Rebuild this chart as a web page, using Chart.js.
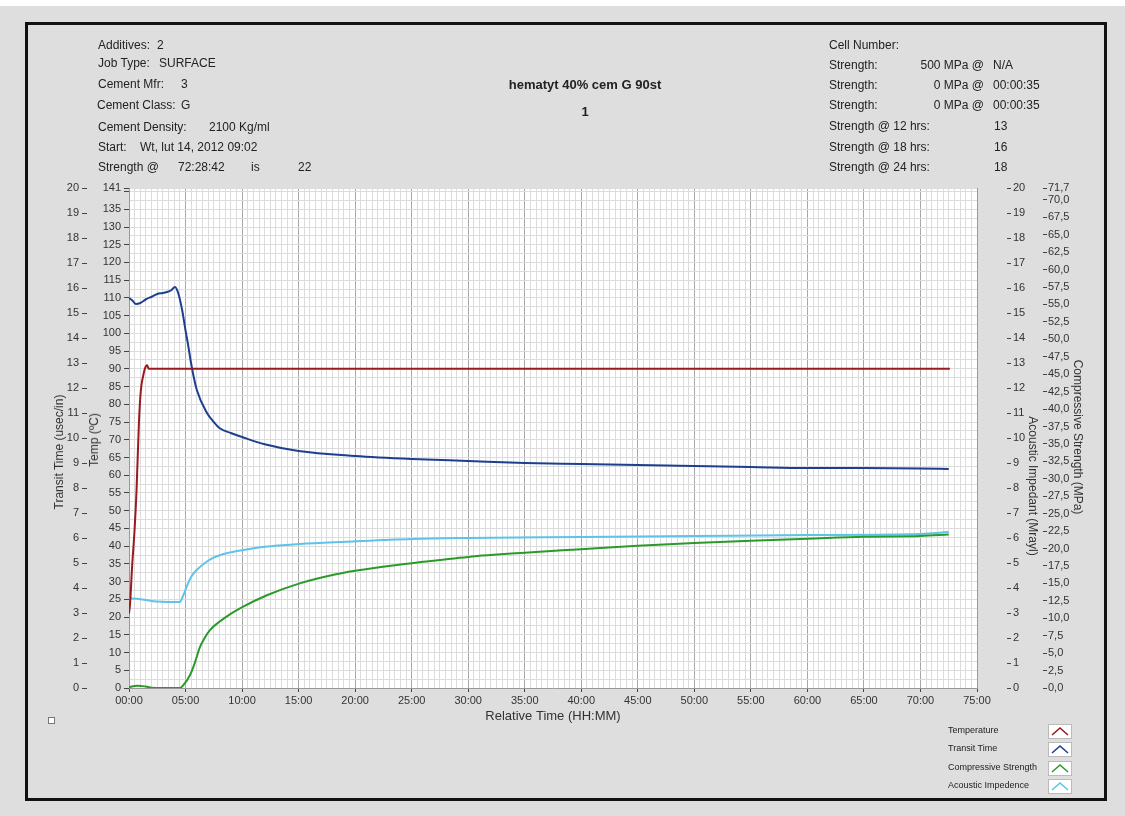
<!DOCTYPE html>
<html>
<head>
<meta charset="utf-8">
<script src="https://cdn.jsdelivr.net/npm/chart.js@4.4.0/dist/chart.umd.min.js"></script>
<style>
  body { margin: 0; width: 1125px; height: 816px; overflow: hidden; position: relative;
         background: #dedede; font-family: "Liberation Sans", Arial, sans-serif; color: #222; }
  #strip { position: absolute; left: 0; top: 0; width: 1125px; height: 6px; background: #fff; }
  #frame { position: absolute; left: 25px; top: 22px; width: 1076px; height: 773px; border: 3px solid #111; }
  canvas { position: absolute; left: 0; top: 0; }
  .t { position: absolute; font-size: 12px; line-height: 14px; white-space: nowrap; z-index: 2; }
  .r { text-align: right; }
  .b { font-weight: bold; font-size: 13px; }
  .vt { position: absolute; font-size: 12px; white-space: nowrap; z-index: 2; color: #333;
        transform: translate(-50%, -50%) rotate(-90deg); }
  .vt.cw { transform: translate(-50%, -50%) rotate(90deg); }
  .lg { position: absolute; font-size: 9px; line-height: 11px; white-space: nowrap; z-index: 2; }
  .sw { position: absolute; left: 1048px; width: 22px; height: 13px; background: #fff;
        border: 1px solid #bbb; z-index: 2; }
  .sw svg { display: block; }
  #chk { position: absolute; left: 48px; top: 717px; width: 5px; height: 5px; border: 1px solid #777; background: #fff; }
</style>
</head>
<body>
<div id="strip"></div>
<div id="frame"></div>
<canvas id="chart" width="1125" height="816"></canvas>

<div class="t" style="left:98px;top:38px">Additives:</div><div class="t" style="left:157px;top:38px">2</div>
<div class="t" style="left:98px;top:56px">Job Type:</div><div class="t" style="left:159px;top:56px">SURFACE</div>
<div class="t" style="left:98px;top:77px">Cement Mfr:</div><div class="t" style="left:181px;top:77px">3</div>
<div class="t" style="left:97px;top:98px">Cement Class:</div><div class="t" style="left:181px;top:98px">G</div>
<div class="t" style="left:98px;top:120px">Cement Density:</div><div class="t" style="left:209px;top:120px">2100 Kg/ml</div>
<div class="t" style="left:98px;top:140px">Start:</div><div class="t" style="left:140px;top:140px">Wt, lut 14, 2012 09:02</div>
<div class="t" style="left:98px;top:160px">Strength @</div><div class="t" style="left:178px;top:160px">72:28:42</div>
<div class="t" style="left:251px;top:160px">is</div><div class="t" style="left:298px;top:160px">22</div>

<div class="t b" style="left:485px;width:200px;text-align:center;top:78px">hematyt 40% cem G 90st</div>
<div class="t b" style="left:485px;width:200px;text-align:center;top:105px">1</div>

<div class="t" style="left:829px;top:38px">Cell Number:</div>
<div class="t" style="left:829px;top:58px">Strength:</div><div class="t r" style="right:141px;top:58px">500 MPa @</div><div class="t" style="left:993px;top:58px">N/A</div>
<div class="t" style="left:829px;top:78px">Strength:</div><div class="t r" style="right:141px;top:78px">0 MPa @</div><div class="t" style="left:993px;top:78px">00:00:35</div>
<div class="t" style="left:829px;top:98px">Strength:</div><div class="t r" style="right:141px;top:98px">0 MPa @</div><div class="t" style="left:993px;top:98px">00:00:35</div>
<div class="t" style="left:829px;top:119px">Strength @ 12 hrs:</div><div class="t" style="left:994px;top:119px">13</div>
<div class="t" style="left:829px;top:140px">Strength @ 18 hrs:</div><div class="t" style="left:994px;top:140px">16</div>
<div class="t" style="left:829px;top:160px">Strength @ 24 hrs:</div><div class="t" style="left:994px;top:160px">18</div>

<div class="vt" style="left:59px;top:452px">Transit Time (usec/in)</div>
<div class="vt" style="left:94px;top:440px">Temp (ºC)</div>
<div class="vt cw" style="left:1033px;top:486px">Acoustic Impedant (Mrayl)</div>
<div class="vt cw" style="left:1078px;top:437px">Compressive Strength (MPa)</div>

<div id="chk"></div>
<div id="legend"></div>

<script>
// series: time in hours, values in each axis' own unit
const tempTime = [0, 0.1, 0.27, 0.5, 0.67, 0.88, 1.05, 1.25, 1.4, 1.6, 1.75, 72.6];
const tempValues = [21, 24, 34, 45, 56, 75, 84, 88, 90, 91, 90, 90];

const transitTime = [0, 0.3, 0.62, 1.0, 1.5, 2.0, 2.5, 3.0, 3.35, 3.7, 4.07, 4.35, 4.7, 5.0, 5.2, 5.55, 6.0, 6.9, 7.5, 8, 9, 10, 12, 15, 20, 25, 30, 35, 40, 45, 50, 55, 60, 65, 70, 72.5];
const transitValues = [15.6, 15.5, 15.36, 15.4, 15.55, 15.65, 15.76, 15.8, 15.84, 15.9, 16.04, 15.8, 15.12, 14.3, 13.8, 12.84, 11.92, 11.0, 10.64, 10.4, 10.2, 10.04, 9.75, 9.48, 9.28, 9.16, 9.08, 9.0, 8.96, 8.92, 8.88, 8.84, 8.8, 8.8, 8.78, 8.76];

const strengthTime = [0, 0.5, 0.8, 1.5, 2, 4.5, 4.8, 5.4, 5.8, 6.28, 6.7, 7.16, 8.6, 10.1, 12.2, 15.1, 18, 20, 24, 25, 30, 35, 40, 45, 50, 55, 60, 65, 70, 72.5];
const strengthValues = [0.1, 0.3, 0.33, 0.2, 0.05, 0, 0.4, 1.87, 3.5, 5.9, 7.2, 8.3, 10.2, 11.66, 13.3, 15.0, 16.2, 16.8, 17.7, 17.9, 18.8, 19.4, 19.9, 20.4, 20.8, 21.1, 21.4, 21.7, 21.8, 22.0];

const impedTime = [0, 1, 2, 3, 4, 4.5, 4.8, 5.1, 5.5, 5.98, 6.86, 7.5, 8.63, 10.1, 12, 15.1, 19.25, 25, 30, 40, 50, 60, 70, 72.5];
const impedValues = [3.59, 3.55, 3.48, 3.45, 3.44, 3.44, 3.7, 4.05, 4.45, 4.72, 5.05, 5.22, 5.39, 5.52, 5.65, 5.76, 5.85, 5.96, 6.0, 6.04, 6.08, 6.12, 6.16, 6.24];

// tick labels
const hourLabels = [0, 5, 10, 15, 20, 25, 30, 35, 40, 45, 50, 55, 60, 65, 70, 75];
const tempTicks = [0, 5, 10, 15, 20, 25, 30, 35, 40, 45, 50, 55, 60, 65, 70, 75, 80, 85, 90, 95, 100, 105, 110, 115, 120, 125, 130, 135, 140, 141];
const transitTicks = [0, 1, 2, 3, 4, 5, 6, 7, 8, 9, 10, 11, 12, 13, 14, 15, 16, 17, 18, 19, 20];
const impedTicks = [0, 1, 2, 3, 4, 5, 6, 7, 8, 9, 10, 11, 12, 13, 14, 15, 16, 17, 18, 19, 20];
const strengthTicks = [0, 2.5, 5, 7.5, 10, 12.5, 15, 17.5, 20, 22.5, 25, 27.5, 30, 32.5, 35, 37.5, 40, 42.5, 45, 47.5, 50, 52.5, 55, 57.5, 60, 62.5, 65, 67.5, 70, 71.7];

const seriesNames = ['Temperature', 'Transit Time', 'Compressive Strength', 'Acoustic Impedence'];
const seriesColors = ['#981b1e', '#1d3f8e', '#2b9a2b', '#5ec3e8'];

const pts = (xs, ys) => xs.map((x, i) => ({ x: x, y: ys[i] }));
const setTicks = list => s => { s.ticks = list.map(v => ({ value: v })); };
const tickFont = { family: '"Liberation Sans", Arial, sans-serif', size: 11 };

const plotBg = {
  id: 'plotBg',
  beforeDraw(c) {
    const a = c.chartArea, ctx = c.ctx;
    ctx.save();
    ctx.fillStyle = '#fff';
    ctx.fillRect(a.left, a.top, a.right - a.left, a.bottom - a.top);
    ctx.restore();
  }
};

function sideAxis(pos, weight, width, max, ticks, labelFn) {
  return {
    type: 'linear', position: pos, weight: weight, min: 0, max: max,
    afterBuildTicks: setTicks(ticks),
    afterFit: s => { s.width = width; },
    ticks: { autoSkip: false, padding: 3, color: '#333', font: tickFont, callback: labelFn },
    grid: { drawOnChartArea: false, tickLength: 5, tickColor: '#444' },
    border: { display: false }
  };
}

const lineSet = (i, data, axis) => ({
  label: seriesNames[i], data: data, yAxisID: axis,
  borderColor: seriesColors[i], borderWidth: 2, pointRadius: 0,
  cubicInterpolationMode: 'monotone', fill: false
});

const scales = {
  x: {
    type: 'linear', min: 0, max: 75,
    afterBuildTicks: s => {
      s.ticks = [];
      for (let h = 0; h <= 75; h += 0.5) s.ticks.push({ value: h });
    },
    afterFit: s => { s.height = 38; },
    ticks: {
      autoSkip: false, maxRotation: 0, padding: 2, color: '#333', font: tickFont,
      callback: v => hourLabels.includes(v) ? String(v).padStart(2, '0') + ':00' : ''
    },
    grid: {
      color: c => c.tick && hourLabels.includes(c.tick.value) ? '#a8a8a8' : '#dcdcdc',
      tickColor: c => c.tick && hourLabels.includes(c.tick.value) ? '#444' : 'rgba(0,0,0,0)',
      tickLength: 4
    },
    border: { color: '#999' },
    title: { display: true, text: 'Relative Time (HH:MM)', color: '#333',
             font: { family: '"Liberation Sans", Arial, sans-serif', size: 13 }, padding: { top: 0, bottom: 2 } }
  },
  yTemp: Object.assign(sideAxis('left', 0, 42, 141, tempTicks, v => v === 140 ? '' : String(v)),
                       { border: { display: true, color: '#999' } }),
  yTransit: sideAxis('left', 1, 40, 20, transitTicks, v => String(v)),
  gridY: {
    type: 'linear', position: 'right', weight: 0, min: 0, max: 141,
    afterBuildTicks: s => {
      s.ticks = [];
      for (let v = 0; v <= 140; v += 2.5) s.ticks.push({ value: v });
      s.ticks.push({ value: 141 });
    },
    afterFit: s => { s.width = 30; },
    ticks: { display: false },
    grid: { color: '#dcdcdc', drawTicks: false },
    border: { display: true, color: '#999' }
  },
  yImped: sideAxis('right', 1, 36, 20, impedTicks, v => String(v)),
  yStrength: sideAxis('right', 2, 45, 71.7, strengthTicks, v => v.toFixed(1).replace('.', ','))
};
scales.yImped.ticks.padding = 2;
scales.yImped.grid.tickLength = 4;
scales.yStrength.ticks.padding = 1;
scales.yStrength.grid.tickLength = 4;

new Chart(document.getElementById('chart'), {
  type: 'line',
  data: {
    datasets: [
      lineSet(0, pts(tempTime, tempValues), 'yTemp'),
      lineSet(1, pts(transitTime, transitValues), 'yTransit'),
      lineSet(2, pts(strengthTime, strengthValues), 'yStrength'),
      lineSet(3, pts(impedTime, impedValues), 'yImped')
    ]
  },
  options: {
    responsive: false, animation: false, devicePixelRatio: 1,
    layout: { padding: { left: 47, right: 37, top: 188, bottom: 90 } },
    plugins: { legend: { display: false }, tooltip: { enabled: false } },
    scales: scales
  },
  plugins: [plotBg]
});

// legend boxes, bottom right
const legendRows = [731, 749, 768, 786];
let html = '';
seriesNames.forEach((name, i) => {
  const y = legendRows[i];
  html += '<div class="lg" style="left:948px;top:' + (y - 6) + 'px">' + name + '</div>';
  html += '<div class="sw" style="top:' + (y - 7) + 'px"><svg width="22" height="13">' +
          '<polyline points="3,10 11,3 19,10" fill="none" stroke="' + seriesColors[i] + '" stroke-width="1.6"/></svg></div>';
});
document.getElementById('legend').innerHTML = html;
</script>
</body>
</html>
